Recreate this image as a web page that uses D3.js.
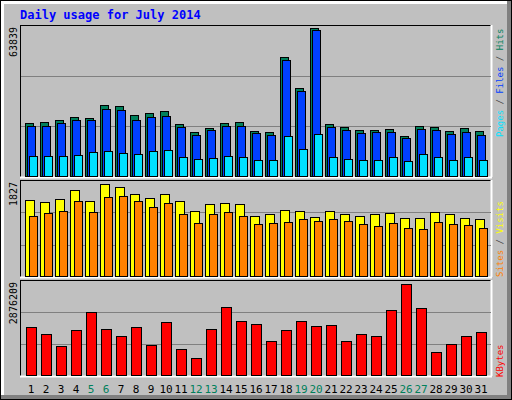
<!DOCTYPE html>
<html>
<head>
<meta charset="utf-8">
<script src="https://cdn.jsdelivr.net/npm/d3@7"></script>
<style>
body { margin: 0; background: #fff; }
text { font-family: "DejaVu Sans Mono", monospace; }
</style>
</head>
<body>
<svg id="canvas" width="512" height="400"></svg>
<script>
let days = d3.range(1, 32)
let weekends = [5, 6, 12, 13, 19, 20, 26, 27]

let hits = [22840,23270,24110,25380,24960,30030,29610,26230,27070,27920,22420,19040,20730,22840,23270,19460,19040,50340,37220,62610,22420,21150,19880,19880,20300,17340,21570,21150,19460,20730,19460]
let files = [21570,21570,22840,24110,24110,28760,28340,24110,25380,25800,21150,17770,19880,21570,21570,18610,17770,49070,35960,61760,21150,19880,18610,19040,19040,16500,20300,19880,18190,19040,17770]
let pages = [8880,8880,8880,9310,10580,11000,10150,9730,11000,11420,8460,7610,8040,8880,8460,7190,7190,17340,11840,18190,8460,7610,7190,7190,8460,6770,9730,8460,7190,8460,7190]
let visits = [1451,1413,1470,1639,1432,1752,1696,1564,1488,1564,1432,1243,1375,1394,1375,1149,1187,1262,1243,1130,1243,1187,1149,1187,1206,1112,1112,1225,1187,1112,1093]
let sites = [1149,1206,1243,1432,1225,1507,1526,1432,1319,1394,1187,1017,1187,1225,1149,998,1017,1036,1093,1055,1093,1055,998,961,1017,923,904,1036,998,980,923]
let kbytes = [1468000,1258300,898800,1378200,1917400,1408100,1198400,1468000,928800,1617800,808900,539300,1408100,2067200,1647800,1557900,1048600,1378200,1647800,1498000,1528000,1048600,1258300,1198400,1977400,2756300,2037300,719000,958700,1198400,1318200]

let maxHits = 63839
let maxVisits = 1827
let maxKbytes = 2876209

let svg = d3.select('#canvas')

// frame
svg.append('rect').attr('x', 0).attr('y', 0).attr('width', 512).attr('height', 400).attr('fill', '#000')
svg.append('rect').attr('x', 1).attr('y', 1).attr('width', 510).attr('height', 398).attr('fill', '#808080')
svg.append('rect').attr('x', 1).attr('y', 1).attr('width', 506).attr('height', 394).attr('fill', '#fff')
svg.append('rect').attr('x', 4).attr('y', 4).attr('width', 503).attr('height', 391).attr('fill', '#c0c0c0')

svg.append('text').text('Daily usage for July 2014')
    .attr('x', 20).attr('y', 19)
    .attr('font-size', 12).attr('font-weight', 'bold').attr('fill', '#0000ff')

let x = d3.scaleLinear().domain([1, 32]).range([25, 490])

let panel = (top, bottom, max, label) => {
    svg.append('rect').attr('x', 20).attr('y', top).attr('width', 471).attr('height', bottom - top).attr('fill', '#c0c0c0')
    svg.append('line').attr('x1', 20).attr('x2', 491).attr('y1', top + 0.5).attr('y2', top + 0.5).attr('stroke', '#000')
    svg.append('line').attr('x1', 20.5).attr('x2', 20.5).attr('y1', top).attr('y2', bottom).attr('stroke', '#000')
    svg.append('line').attr('x1', 20).attr('x2', 492).attr('y1', bottom + 0.5).attr('y2', bottom + 0.5).attr('stroke', '#fff').attr('stroke-width', 2)
    svg.append('line').attr('x1', 491.5).attr('x2', 491.5).attr('y1', top).attr('y2', bottom).attr('stroke', '#fff').attr('stroke-width', 2)
    let y = d3.scaleLinear().domain([0, max]).range([bottom, top])
    svg.append('g').selectAll('line').data([max / 3, max * 2 / 3]).enter().append('line')
        .attr('x1', 21).attr('x2', 491)
        .attr('y1', d => Math.round(y(d)) + 0.5).attr('y2', d => Math.round(y(d)) + 0.5)
        .attr('stroke', '#808080')
    svg.append('text').text(label)
        .attr('transform', 'translate(17,' + (top + 2) + ') rotate(-90)')
        .attr('text-anchor', 'end').attr('font-size', 10).attr('fill', '#000')
    return y
}

let bars = (y, data, offset, width, color) => {
    svg.append('g').selectAll('rect').data(data).enter().append('rect')
        .attr('x', (d, i) => x(i + 1) + offset + 0.5)
        .attr('y', d => Math.round(y(d)) + 0.5)
        .attr('width', width)
        .attr('height', d => y(0) - Math.round(y(d)) - 1)
        .attr('fill', color).attr('stroke', '#000')
}

let y1 = panel(25, 177, maxHits, '63839')
bars(y1, hits, 0, 8, '#00805c')
bars(y1, files, 2, 8, '#0040ff')
bars(y1, pages, 4, 8, '#00e0ff')

let y2 = panel(180, 277, maxVisits, '1827')
bars(y2, visits, 0, 9, '#ffff00')
bars(y2, sites, 4, 8, '#ff8000')

let y3 = panel(280, 376, maxKbytes, '2876209')
bars(y3, kbytes, 1, 10, '#ff0000')

// day labels
svg.append('g').selectAll('text').data(days).enter().append('text')
    .text(d => d)
    .attr('x', d => x(d) + 6).attr('y', 393)
    .attr('text-anchor', 'middle').attr('font-size', 11)
    .attr('fill', d => weekends.includes(d) ? '#00805c' : '#000')

// right side legends
let legend = (yPos, parts) => {
    let t = svg.append('text')
        .attr('transform', 'translate(503,' + yPos + ') rotate(-90)')
        .attr('font-size', 9)
    parts.forEach(p => t.append('tspan').text(p[0]).attr('fill', p[1]))
}
legend(137, [['Pages', '#00e0ff'], [' / ', '#404040'], ['Files', '#0040ff'], [' / ', '#404040'], ['Hits', '#00805c']])
legend(277, [['Sites', '#ff8000'], [' / ', '#404040'], ['Visits', '#ffff00']])
legend(377, [['KBytes', '#ff0000']])
</script>
</body>
</html>
